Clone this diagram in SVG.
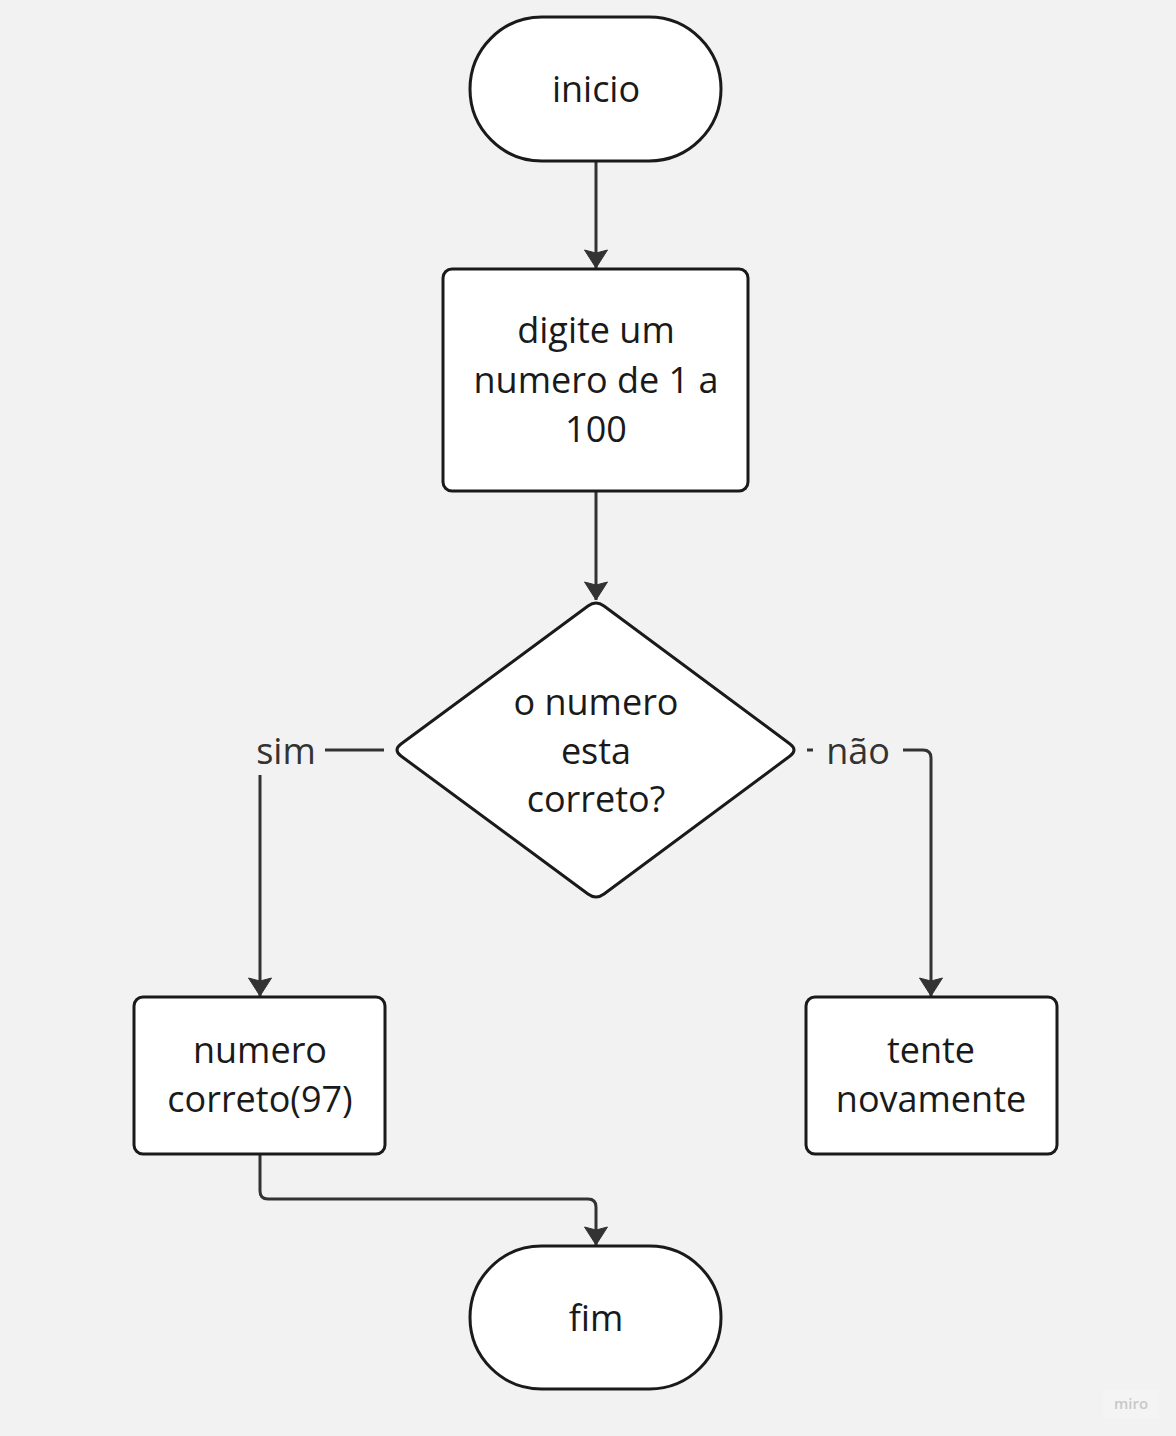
<svg xmlns="http://www.w3.org/2000/svg" width="1176" height="1436" viewBox="0 0 1176 1436">
<defs>
<style>
.shape{fill:#ffffff;stroke:#1a1a1a;stroke-width:3}
.t{font-family:"Open Sans","Noto Sans","Liberation Sans",sans-serif;font-size:36px;fill:#1a1a1a;text-anchor:middle}
.lbl{font-family:"Open Sans","Noto Sans","Liberation Sans",sans-serif;font-size:36px;fill:#333333;text-anchor:middle}
.c{fill:none;stroke:#333333;stroke-width:3;stroke-linejoin:round}
.mask{fill:#f2f2f2}
</style>
<marker id="arr" markerUnits="userSpaceOnUse" viewBox="-1 -13 21 26" markerWidth="21" markerHeight="26" refX="18" refY="0" orient="auto">
<path d="M0,-11.5 L18,0 L0,11.5 L3,0 Z" fill="#333333" stroke="#333333" stroke-width="1" stroke-linejoin="round"/>
</marker>
</defs>
<rect width="1176" height="1436" fill="#f2f2f2"/>

<g id="connectors">
<path class="c" d="M596,161 L596,268" marker-end="url(#arr)"/>
<path class="c" d="M596,492 L596,600" marker-end="url(#arr)"/>
<path class="c" d="M384,750 L268,750 Q260,750 260,758 L260,996" marker-end="url(#arr)"/>
<path class="c" d="M807,750 L923,750 Q931,750 931,758 L931,996" marker-end="url(#arr)"/>
<path class="c" d="M260,1155 L260,1191 Q260,1199 268,1199 L588,1199 Q596,1199 596,1207 L596,1245" marker-end="url(#arr)"/>
<g id="label-sim">
<rect class="mask" x="247" y="727" width="78" height="48"/>
<text class="lbl" x="286" y="764">sim</text>
</g>
<g id="label-nao">
<rect class="mask" x="813" y="727" width="90" height="48"/>
<text class="lbl" x="858" y="764">não</text>
</g>
</g>

<g id="inicio">
<rect class="shape" x="470" y="17" width="251" height="144" rx="72" ry="72"/>
<text class="t" x="596" y="102">inicio</text>
</g>

<g id="digite">
<rect class="shape" x="443" y="269" width="305" height="222" rx="9" ry="9"/>
<text class="t" x="596" y="343">digite um</text>
<text class="t" x="596" y="393">numero de 1 a</text>
<text class="t" x="596" y="442">100</text>
</g>

<g id="decisao">
<path class="shape" d="M588,606 Q596,600 604,606 L790,744 Q798,750 790,756 L604,894 Q596,900 588,894 L401,756 Q393,750 401,744 Z"/>
<text class="t" x="596" y="715">o numero</text>
<text class="t" x="596" y="764">esta</text>
<text class="t" x="596" y="812">correto?</text>
</g>

<g id="correto">
<rect class="shape" x="134" y="997" width="251" height="157" rx="9" ry="9"/>
<text class="t" x="260" y="1063">numero</text>
<text class="t" x="260" y="1112">correto(97)</text>
</g>

<g id="tente">
<rect class="shape" x="806" y="997" width="251" height="157" rx="9" ry="9"/>
<text class="t" x="931" y="1063">tente</text>
<text class="t" x="931" y="1112">novamente</text>
</g>

<g id="fim">
<rect class="shape" x="470" y="1246" width="251" height="143" rx="71.5" ry="71.5"/>
<text class="t" x="596" y="1331">fim</text>
</g>

<g id="watermark">
<rect x="1103" y="1390" width="56" height="28" rx="4" fill="#f4f4f4"/>
<text x="1131" y="1409" font-family="'Open Sans','Noto Sans',sans-serif" font-size="15" font-weight="600" fill="#c8c8c8" text-anchor="middle">miro</text>
</g>
</svg>
